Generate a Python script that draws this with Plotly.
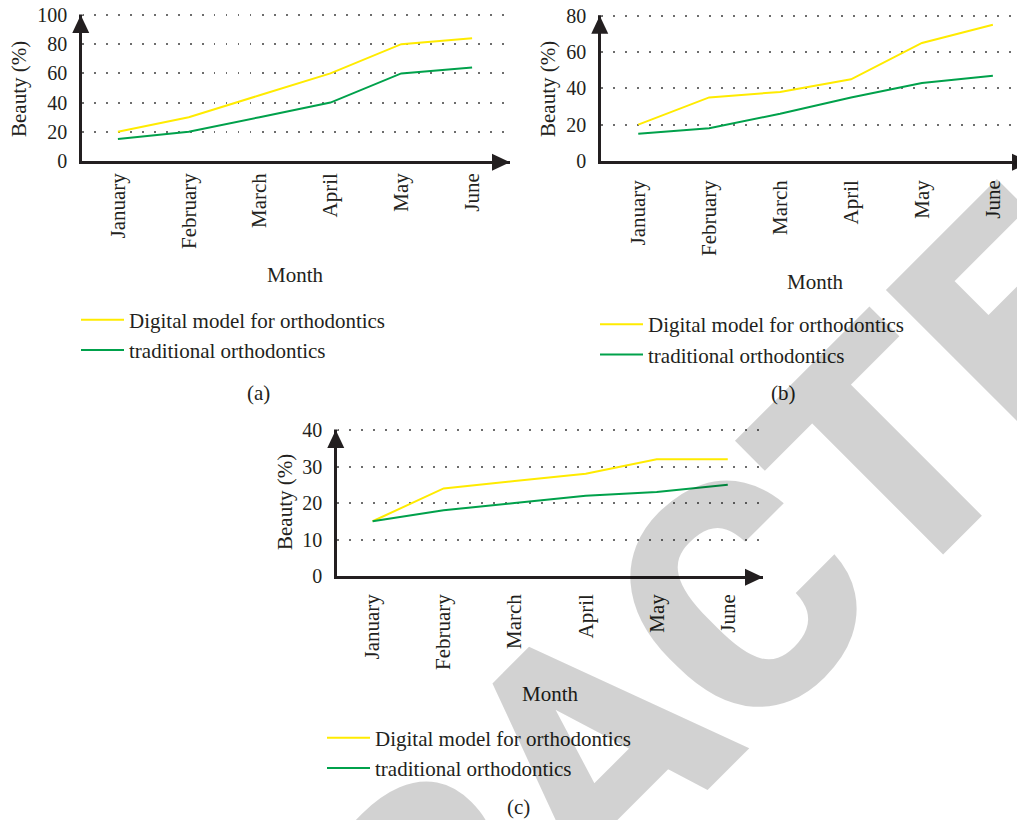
import plotly.graph_objects as go

# ---- data ----
months = ["January", "February", "March", "April", "May", "June"]

digital_a = [20, 30, 45, 60, 80, 84]
traditional_a = [15, 20, 30, 40, 60, 64]

digital_b = [20, 35, 38, 45, 65, 75]
traditional_b = [15, 18, 26, 35, 43, 47]

digital_c = [15, 24, 26, 28, 32, 32]
traditional_c = [15, 18, 20, 22, 23, 25]

y_ticks_a = [0, 20, 40, 60, 80, 100]
y_ticks_b = [0, 20, 40, 60, 80]
y_ticks_c = [0, 10, 20, 30, 40]

series_names = ["Digital model for orthodontics", "traditional orthodontics"]
captions = ["(a)", "(b)", "(c)"]

# ---- styling ----
W, H = 1017, 820
YELLOW = "#FFEB00"
GREEN = "#00A14B"
INK = "#231f20"
SERIF = "Liberation Serif"
TXT = 21


def px_x(p):
    return p / W


def px_y(p):
    return 1 - p / H


# panel frames in pixels (left/right/bottom/top of the axes box, x-arrow tip)
panels = [
    dict(ax="", left=82, right=510, bottom=161, top=15, xtip=510,
         xr=[-0.507, 5.535], ymax=100, yt=y_ticks_a, xs=1,
         digital=digital_a, trad=traditional_a, legend="legend",
         month=(295, 275), ylab=(19, 89), cap=(258, 393),
         leg=(76, 320.5)),
    dict(ax="2", left=601, right=1017, bottom=161, top=15.7, xtip=1030,
         xr=[-0.525, 5.34], ymax=80, yt=y_ticks_b, xs=8,
         digital=digital_b, trad=traditional_b, legend="legend2",
         month=(815, 282), ylab=(548, 89), cap=(783, 393),
         leg=(595, 325)),
    dict(ax="3", left=337, right=763, bottom=576, top=430, xtip=763,
         xr=[-0.501, 5.496], ymax=40, yt=y_ticks_c, xs=7,
         digital=digital_c, trad=traditional_c, legend="legend3",
         month=(550, 694), ylab=(285, 502), cap=(518, 807),
         leg=(322, 738.5)),
]

fig = go.Figure()
shapes = []
annotations = []
layout = dict(
    template="none",
    width=W, height=H,
    margin=dict(l=0, r=0, t=0, b=0, pad=0, autoexpand=False),
    paper_bgcolor="white", plot_bgcolor="white",
    font=dict(family=SERIF, size=TXT, color=INK),
)

for i, p in enumerate(panels):
    xa = "x" + p["ax"]
    ya = "y" + p["ax"]
    for name, vals, col in ((series_names[0], p["digital"], YELLOW),
                            (series_names[1], p["trad"], GREEN)):
        fig.add_trace(go.Scatter(
            x=months, y=vals, name=name, mode="lines",
            line=dict(color=col, width=2),
            xaxis=xa, yaxis=ya, legend=p["legend"], showlegend=True,
        ))

    # leave a couple of pixels of headroom so the top gridline is drawn
    span = p["bottom"] - p["top"]
    head = 3
    layout["xaxis" + p["ax"]] = dict(
        domain=[px_x(p["left"]), min(px_x(p["right"]), 1.0)],
        anchor=ya, range=p["xr"], type="category",
        showline=True, linecolor=INK, linewidth=2.5,
        showgrid=False, zeroline=False, ticks="", automargin=False,
        tickangle=-90, ticklabelstandoff=p["xs"],
        tickfont=dict(family=SERIF, size=TXT, color=INK),
        fixedrange=True,
    )
    layout["yaxis" + p["ax"]] = dict(
        domain=[px_y(p["bottom"]), px_y(p["top"] - head)],
        anchor=xa, range=[0, p["ymax"] * (span + head) / span],
        tickvals=p["yt"],
        showline=True, linecolor=INK, linewidth=2.5,
        showgrid=True, gridcolor="#6d6d6d", gridwidth=1.5,
        griddash="1.5px,10.5px", zeroline=False, ticks="", automargin=False,
        ticklabelstandoff=8,
        tickfont=dict(family=SERIF, size=20, color=INK),
        fixedrange=True,
    )

    # arrow heads at the end of both axes
    x0 = px_x(p["left"] - 1.25)
    yb = px_y(p["bottom"] + 1.25)
    tip_y = px_y(p["top"])
    shapes.append(dict(
        type="path", xref="paper", yref="paper", layer="above",
        path=(f"M {px_x(p['left'] - 9.75)},{px_y(p['top'] + 18)} "
              f"L {x0},{tip_y} L {px_x(p['left'] + 7.25)},{px_y(p['top'] + 18)} Z"),
        fillcolor=INK, line=dict(width=0),
    ))
    # white cover over the axis line above the arrow tip
    shapes.append(dict(
        type="rect", xref="paper", yref="paper", layer="above",
        x0=px_x(p["left"] - 3), x1=px_x(p["left"] + 1),
        y0=px_y(p["top"] - 0.5), y1=px_y(p["top"] - head - 0.5),
        fillcolor="white", line=dict(width=0),
    ))
    shapes.append(dict(
        type="path", xref="paper", yref="paper", layer="above",
        path=(f"M {px_x(p['xtip'] - 18)},{px_y(p['bottom'] - 7.25)} "
              f"L {px_x(p['xtip'])},{yb} L {px_x(p['xtip'] - 18)},{px_y(p['bottom'] + 9.75)} Z"),
        fillcolor=INK, line=dict(width=0),
    ))

    annotations.append(dict(
        text="Month", xref="paper", yref="paper",
        x=px_x(p["month"][0]), y=px_y(p["month"][1]),
        xanchor="center", yanchor="middle", showarrow=False,
        font=dict(family=SERIF, size=TXT, color=INK),
    ))
    annotations.append(dict(
        text="Beauty (%)", xref="paper", yref="paper",
        x=px_x(p["ylab"][0]), y=px_y(p["ylab"][1]), textangle=-90,
        xanchor="center", yanchor="middle", showarrow=False,
        font=dict(family=SERIF, size=TXT, color=INK),
    ))
    annotations.append(dict(
        text=captions[i], xref="paper", yref="paper",
        x=px_x(p["cap"][0]), y=px_y(p["cap"][1]),
        xanchor="center", yanchor="middle", showarrow=False,
        font=dict(family=SERIF, size=TXT, color=INK),
    ))

    layout[p["legend"]] = dict(
        x=px_x(p["leg"][0]), y=px_y(p["leg"][1] - 21),
        xanchor="left", yanchor="top",
        bgcolor="rgba(0,0,0,0)", borderwidth=0,
        itemwidth=43, tracegroupgap=0,
        font=dict(family=SERIF, size=TXT, color=INK),
    )

# diagonal retraction stamp
annotations.append(dict(
    text="RETRACTED", xref="paper", yref="paper",
    x=px_x(590), y=px_y(752), xanchor="center", yanchor="middle",
    textangle=-45, showarrow=False,
    font=dict(family="Roboto", size=320, weight=900,
              color="rgba(0,0,0,0.175)"),
))

layout["shapes"] = shapes
layout["annotations"] = annotations
fig.update_layout(**layout)

fig.write_html("out.html")
